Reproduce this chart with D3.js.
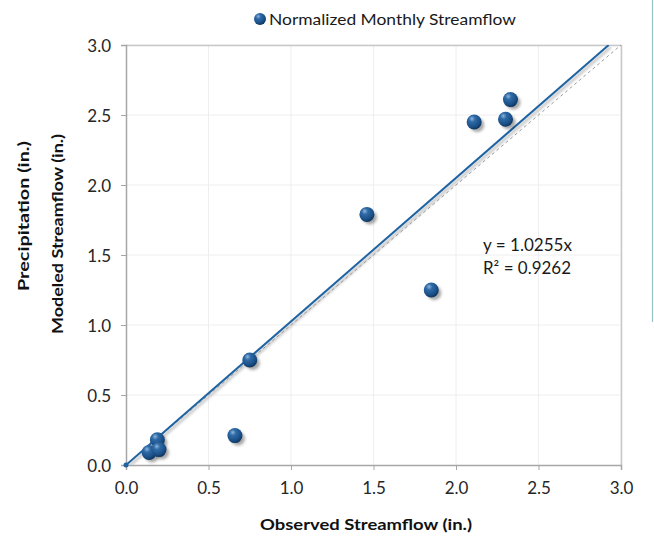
<!DOCTYPE html>
<html>
<head>
<meta charset="utf-8">
<script src="https://cdn.jsdelivr.net/npm/d3@7/dist/d3.min.js"></script>
<style>
  html, body { margin: 0; padding: 0; background: #fff; }
  svg { display: block; font-family: Lato, "Open Sans", sans-serif; }
</style>
</head>
<body>
<svg id="chart" width="654" height="548"></svg>
<script>
// Observed vs. modeled normalized monthly streamflow (inches)
const observed = [0.14, 0.19, 0.20, 0.66, 0.75, 1.46, 1.85, 2.11, 2.30, 2.33];
const modeled  = [0.09, 0.18, 0.11, 0.21, 0.75, 1.79, 1.25, 2.45, 2.47, 2.61];
const tickValues = [0.0, 0.5, 1.0, 1.5, 2.0, 2.5, 3.0];
const trendSlope = 1.0255;
const rSquared = 0.9262;
const seriesName = "Normalized Monthly Streamflow";

const svg = d3.select("#chart");
const m = { left: 126, right: 621, top: 45, bottom: 465 };

const x = d3.scaleLinear().domain([0, 3]).range([m.left, m.right]);
const y = d3.scaleLinear().domain([0, 3]).range([m.bottom, m.top]);

const defs = svg.append("defs");
const grad = defs.append("radialGradient").attr("id", "ball")
  .attr("cx", "38%").attr("cy", "32%").attr("r", "70%").attr("fx", "35%").attr("fy", "28%");
grad.append("stop").attr("offset", "0%").attr("stop-color", "#8db6de");
grad.append("stop").attr("offset", "30%").attr("stop-color", "#2f6aa6");
grad.append("stop").attr("offset", "75%").attr("stop-color", "#1a4f86");
grad.append("stop").attr("offset", "100%").attr("stop-color", "#0d335c");
defs.append("filter").attr("id", "soft").attr("x", "-50%").attr("y", "-50%").attr("width", "200%").attr("height", "200%")
  .append("feGaussianBlur").attr("stdDeviation", 1.6);
defs.append("filter").attr("id", "softLine").attr("x", "-10%").attr("y", "-10%").attr("width", "120%").attr("height", "120%")
  .append("feGaussianBlur").attr("stdDeviation", 0.9);
defs.append("clipPath").attr("id", "plotClip").append("rect")
  .attr("x", m.left).attr("y", m.top).attr("width", m.right - m.left).attr("height", m.bottom - m.top);

// border of the neighbouring panel on the right
svg.append("line").attr("x1", 652.5).attr("x2", 652.5).attr("y1", 0).attr("y2", 322)
  .attr("stroke", "#93c4c9").attr("stroke-width", 1.2);

// gridlines
const grid = svg.append("g");
grid.selectAll(".gx").data(tickValues.slice(1)).join("line")
  .attr("x1", d => x(d)).attr("x2", d => x(d)).attr("y1", m.top).attr("y2", m.bottom)
  .attr("stroke", "#eeeeee").attr("stroke-width", 1);
grid.selectAll(".gy").data(tickValues.slice(1)).join("line")
  .attr("x1", m.left).attr("x2", m.right).attr("y1", d => y(d)).attr("y2", d => y(d))
  .attr("stroke", "#eeeeee").attr("stroke-width", 1);

// plot frame (top and right)
svg.append("path")
  .attr("d", `M${m.left},${m.top + 0.5}H${m.right + 0.5}V${m.bottom}`)
  .attr("fill", "none").attr("stroke", "#c8c8c8").attr("stroke-width", 1.5);

// axes
const xAxis = d3.axisBottom(x).tickValues(tickValues).tickFormat(d3.format(".1f")).tickSize(5).tickPadding(9);
const yAxis = d3.axisLeft(y).tickValues(tickValues).tickFormat(d3.format(".1f")).tickSize(5).tickPadding(10);

const gx = svg.append("g").attr("transform", `translate(0,${m.bottom})`).call(xAxis);
const gy = svg.append("g").attr("transform", `translate(${m.left},0)`).call(yAxis);
[gx, gy].forEach(g => {
  g.select(".domain").attr("stroke", "#a6a6a6").attr("stroke-width", 1.5);
  g.selectAll(".tick line").attr("stroke", "#a6a6a6");
  g.selectAll(".tick text").attr("fill", "#262626").attr("font-size", 17)
    .attr("font-family", "Lato, 'Open Sans', sans-serif");
});
gx.selectAll(".tick text").attr("dy", "0.9em");
gy.selectAll(".tick text").attr("dy", "0.36em");

// 1:1 reference line and trend line
const lines = svg.append("g").attr("clip-path", "url(#plotClip)");
const xEnd = Math.min(3, 3 / trendSlope);
lines.append("line")
  .attr("x1", x(0) + 2).attr("y1", y(0) + 2).attr("x2", x(xEnd) + 2).attr("y2", y(trendSlope * xEnd) + 2)
  .attr("stroke", "#d0d0d0").attr("stroke-width", 3.5).attr("filter", "url(#softLine)");
lines.append("line")
  .attr("x1", x(0)).attr("y1", y(0)).attr("x2", x(3)).attr("y2", y(3))
  .attr("stroke", "#9a9a9a").attr("stroke-width", 1).attr("stroke-dasharray", "3,3");
lines.append("line")
  .attr("x1", x(0)).attr("y1", y(0)).attr("x2", x(xEnd)).attr("y2", y(trendSlope * xEnd))
  .attr("stroke", "#1f64a2").attr("stroke-width", 2);
svg.append("circle").attr("cx", x(0)).attr("cy", y(0)).attr("r", 2.5).attr("fill", "#1f64a2");

// data points
const pts = observed.map((o, i) => ({ o, p: modeled[i] }));
const pg = svg.append("g");
pg.selectAll(".sh").data(pts).join("circle")
  .attr("cx", d => x(d.o) + 3).attr("cy", d => y(d.p) + 3).attr("r", 7)
  .attr("fill", "#000").attr("opacity", 0.35).attr("filter", "url(#soft)");
pg.selectAll(".pt").data(pts).join("circle")
  .attr("cx", d => x(d.o)).attr("cy", d => y(d.p)).attr("r", 7.5)
  .attr("fill", "url(#ball)");

// trend equation
const eq = svg.append("text").attr("font-size", 17).attr("fill", "#1a1a1a");
eq.append("tspan").attr("x", 483).attr("y", 251).attr("textLength", 89).attr("lengthAdjust", "spacingAndGlyphs")
  .text(`y = ${trendSlope.toFixed(4)}x`);
eq.append("tspan").attr("x", 483).attr("y", 274).attr("textLength", 88).attr("lengthAdjust", "spacingAndGlyphs")
  .text(`R² = ${rSquared.toFixed(4)}`);

// legend
svg.append("circle").attr("cx", 260).attr("cy", 19).attr("r", 6).attr("fill", "url(#ball)");
svg.append("text").attr("x", 269).attr("y", 24.5).attr("font-size", 16).attr("fill", "#1a1a1a")
  .attr("textLength", 247).attr("lengthAdjust", "spacingAndGlyphs").text(seriesName);

// axis titles
svg.append("text").attr("x", 366).attr("y", 530).attr("text-anchor", "middle")
  .attr("font-size", 15).attr("font-weight", "bold").attr("fill", "#111")
  .attr("textLength", 212).attr("lengthAdjust", "spacingAndGlyphs")
  .text("Observed Streamflow (in.)");
svg.append("text").attr("transform", "translate(63,234) rotate(-90)").attr("text-anchor", "middle")
  .attr("font-size", 15).attr("font-weight", "bold").attr("fill", "#111")
  .attr("textLength", 200).attr("lengthAdjust", "spacingAndGlyphs")
  .text("Modeled Streamflow (in.)");
svg.append("text").attr("transform", "translate(29,216) rotate(-90)").attr("text-anchor", "middle")
  .attr("font-size", 15).attr("font-weight", "bold").attr("fill", "#111")
  .attr("textLength", 150).attr("lengthAdjust", "spacingAndGlyphs")
  .text("Precipitation (in.)");
</script>
</body>
</html>
